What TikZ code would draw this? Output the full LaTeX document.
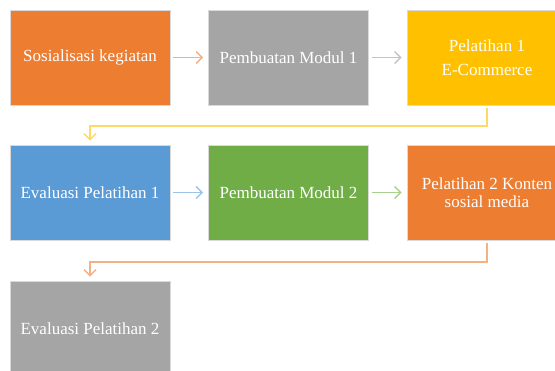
\documentclass[tikz,border=0pt]{standalone}
\usepackage{fontspec}
\setmainfont{Liberation Serif}
\usetikzlibrary{arrows.meta}
\definecolor{cOrange}{HTML}{ED7D31}
\definecolor{cGray}{HTML}{A5A5A5}
\definecolor{cYellow}{HTML}{FFC000}
\definecolor{cBlue}{HTML}{5B9BD5}
\definecolor{cGreen}{HTML}{70AD47}
\definecolor{aOrange}{HTML}{F4B183}
\definecolor{aGray}{HTML}{C4C4C4}
\definecolor{aYellow}{HTML}{FFD966}
\definecolor{aBlue}{HTML}{9DC3E6}
\definecolor{aGreen}{HTML}{A9D18E}
\begin{document}
\begin{tikzpicture}[x=1pt,y=-1pt,
  stepbox/.style={rectangle, minimum width=160pt, minimum height=95pt, inner sep=2pt,
    draw=white!85!black, line width=0.6pt, text=white, align=center,
    font=\fontsize{17}{20}\selectfont},
  flow/.style={line width=1.8pt, -{Straight Barb[length=6pt,width=12pt,line width=1.5pt]},
    shorten <=3pt, shorten >=5pt},
  elbow/.style={line width=1.8pt, -{Straight Barb[length=6pt,width=12pt,line width=1.5pt]},
    shorten <=3pt, shorten >=4pt}]
\useasboundingbox (0,0) rectangle (555,371);
\begin{scope}
\clip (0,0) rectangle (555,371);
\node[stepbox, fill=cOrange] (b1) at (90,57.5) {Sosialisasi kegiatan};
\node[stepbox, fill=cGray] (b2) at (288.5,57.5) {Pembuatan Modul 1};
\node[stepbox, fill=cYellow] (b3) at (487,57.5) {Pelatihan 1\\[4pt]E-Commerce};
\node[stepbox, fill=cBlue] (b4) at (90,192.5) {Evaluasi Pelatihan 1};
\node[stepbox, fill=cGreen] (b5) at (288.5,192.5) {Pembuatan Modul 2};
\node[stepbox, fill=cOrange] (b6) at (487,192.5) {Pelatihan 2 Konten\\[-2pt]sosial media};
\node[stepbox, fill=cGray] (b7) at (90,328.5) {Evaluasi Pelatihan 2};
\end{scope}
\coordinate (c1) at (90,126);
\coordinate (c2) at (90,262);
\draw[flow, aOrange] (b1) -- (b2);
\draw[flow, aGray] (b2) -- (b3);
\draw[flow, aBlue] (b4) -- (b5);
\draw[flow, aGreen] (b5) -- (b6);
\draw[elbow, aYellow] (b3.south) |- (c1) -- (b4.north);
\draw[elbow, aOrange] (b6.south) |- (c2) -- (b7.north);
\end{tikzpicture}
\end{document}
